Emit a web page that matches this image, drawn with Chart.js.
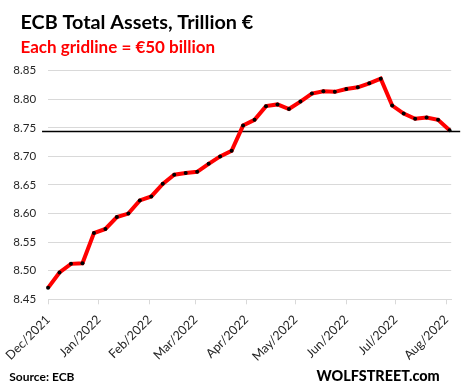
<!DOCTYPE html>
<html><head><meta charset="utf-8">
<script src="https://cdn.jsdelivr.net/npm/chart.js@4.4.0/dist/chart.umd.min.js"></script>
<style>html,body{margin:0;padding:0;background:#fff}#wrap{position:relative;width:465px;height:392px}</style>
</head><body><div id="wrap"><canvas id="c" width="465" height="392"></canvas></div>
<script>
// ---- data ----
const weekDates = ['2021-12-03','2021-12-10','2021-12-17','2021-12-24','2021-12-31',
  '2022-01-07','2022-01-14','2022-01-21','2022-01-28',
  '2022-02-04','2022-02-11','2022-02-18','2022-02-25',
  '2022-03-04','2022-03-11','2022-03-18','2022-03-25',
  '2022-04-01','2022-04-08','2022-04-15','2022-04-22','2022-04-29',
  '2022-05-06','2022-05-13','2022-05-20','2022-05-27',
  '2022-06-03','2022-06-10','2022-06-17','2022-06-24',
  '2022-07-01','2022-07-08','2022-07-15','2022-07-22','2022-07-29',
  '2022-08-05'];
const totalAssets = [8.470,8.497,8.512,8.513,8.566,8.573,8.594,8.600,8.623,8.630,8.652,8.668,
  8.671,8.673,8.687,8.700,8.710,8.754,8.764,8.788,8.791,8.783,8.796,8.810,8.814,8.813,
  8.818,8.821,8.828,8.836,8.789,8.775,8.766,8.768,8.764,8.746];
const tickDates = ['2021-12-03','2022-01-03','2022-02-03','2022-03-03','2022-04-03','2022-05-03','2022-06-03','2022-07-03','2022-08-03'];
const tickLabels = ['Dec/2021','Jan/2022','Feb/2022','Mar/2022','Apr/2022','May/2022','Jun/2022','Jul/2022','Aug/2022'];
const yTickValues = [8.45,8.50,8.55,8.60,8.65,8.70,8.75,8.80,8.85];
const referenceLevel = 8.744;
const axisEndDate = '2022-08-06';
const titleText = 'ECB Total Assets, Trillion \u20ac';
const subtitleText = 'Each gridline = \u20ac50 billion';
const sourceText = 'Source: ECB';
const brandText = 'WOLFSTREET.com';

// ---- helpers ----
const base = Date.parse(weekDates[0] + 'T00:00:00Z');
const dayOf = s => (Date.parse(s + 'T00:00:00Z') - base) / 86400000;
const points = weekDates.map((d, i) => ({x: dayOf(d), y: totalAssets[i]}));
const tickDays = tickDates.map(dayOf);

const refLine = {
  id: 'refLine',
  beforeDatasetsDraw(chart) {
    const {ctx, chartArea, scales} = chart;
    const y = Math.round(scales.y.getPixelForValue(referenceLevel)) + 0.5;
    ctx.save();
    ctx.strokeStyle = '#000';
    ctx.lineWidth = 1.3;
    ctx.beginPath();
    ctx.moveTo(chartArea.left - 6, y);
    ctx.lineTo(chartArea.right + 9, y);
    ctx.stroke();
    ctx.restore();
  }
};
const texts = {
  id: 'texts',
  afterDraw(chart) {
    const ctx = chart.ctx;
    ctx.save();
    ctx.textBaseline = 'alphabetic';
    ctx.textAlign = 'left';
    ctx.fillStyle = '#000';
    ctx.font = 'bold 19.8px Lato';
    ctx.fillText(titleText, 20.5, 29);
    ctx.fillStyle = '#ff0000';
    ctx.font = 'bold 17px Lato';
    ctx.fillText(subtitleText, 20.5, 53.3);
    ctx.fillStyle = '#000';
    ctx.font = 'bold 12px Lato';
    ctx.fillText(sourceText, 9.3, 380.5);
    ctx.font = '900 14.4px Lato';
    ctx.fillText(brandText, 316.5, 380.5);
    ctx.restore();
  }
};

new Chart(document.getElementById('c'), {
  type: 'line',
  data: {datasets: [{
    data: points, clip: false,
    borderColor: '#ff0000', borderWidth: 4, tension: 0, fill: false,
    pointRadius: 2, pointHoverRadius: 2, pointBackgroundColor: '#000', pointBorderWidth: 0
  }]},
  options: {
    responsive: false, animation: false, devicePixelRatio: 1,
    layout: {padding: {left: 0, right: 13.3, top: 70.7, bottom: 0}},
    plugins: {legend: {display: false}, tooltip: {enabled: false}, title: {display: false}},
    scales: {
      x: {
        type: 'linear', min: 0, max: dayOf(axisEndDate),
        afterBuildTicks: s => { s.ticks = tickDays.map(v => ({value: v})); },
        afterFit: s => { s.height = 392 - 299.3; },
        ticks: {
          autoSkip: false, maxRotation: 45, minRotation: 45, padding: 8,
          font: {family: 'Lato', size: 12.5}, color: '#262626',
          callback: v => { const i = tickDays.indexOf(v); return i >= 0 ? tickLabels[i] : ''; }
        },
        grid: {drawOnChartArea: false, drawTicks: true, tickLength: 5, color: '#d9d9d9'},
        border: {display: true, color: '#d9d9d9'}
      },
      y: {
        min: yTickValues[0], max: yTickValues[yTickValues.length - 1],
        afterBuildTicks: s => { s.ticks = yTickValues.map(v => ({value: v})); },
        afterFit: s => { s.width = 44.3; },
        ticks: {padding: 12, font: {family: 'Lato', size: 11.5}, color: '#262626', callback: v => Number(v).toFixed(2)},
        grid: {color: '#d9d9d9', drawTicks: false},
        border: {display: false}
      }
    }
  },
  plugins: [refLine, texts]
});
</script>
</body></html>
